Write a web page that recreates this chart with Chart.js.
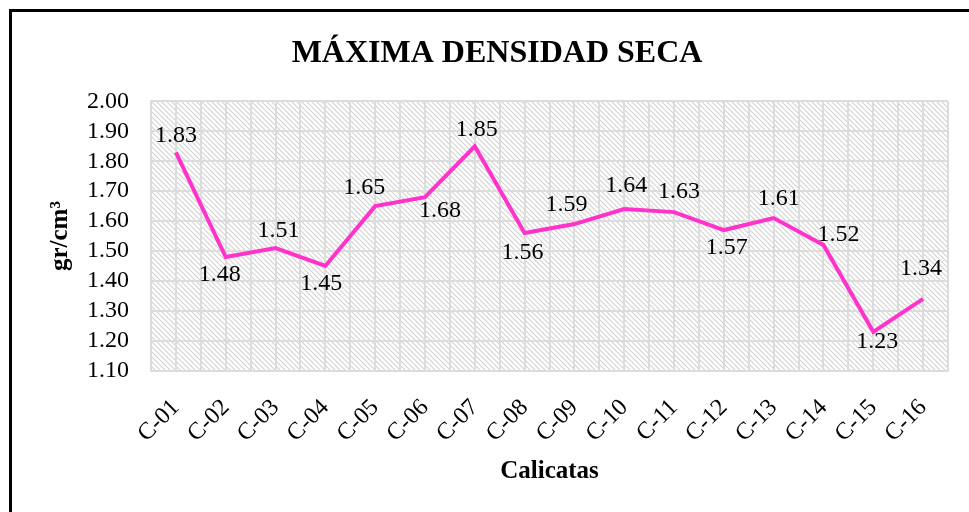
<!DOCTYPE html>
<html>
<head>
<meta charset="utf-8">
<script src="https://cdn.jsdelivr.net/npm/chart.js@4/dist/chart.umd.min.js"></script>
<style>
  html, body { margin: 0; padding: 0; background: #fff; overflow: hidden; width: 969px; height: 512px; }
  #wrap { position: absolute; left: 0; top: 0; width: 969px; height: 512px; }
  #frame { position: absolute; left: 9px; top: 9px; width: 2000px; height: 2000px; border: 3px solid #000; pointer-events: none; }
</style>
</head>
<body>
<div id="wrap"><canvas id="c" width="969" height="512"></canvas></div>
<div id="frame"></div>
<script>
// ---- data ----
const categories = ['C-01','C-02','C-03','C-04','C-05','C-06','C-07','C-08','C-09','C-10','C-11','C-12','C-13','C-14','C-15','C-16'];
const densidad = [1.83, 1.48, 1.51, 1.45, 1.65, 1.68, 1.85, 1.56, 1.59, 1.64, 1.63, 1.57, 1.61, 1.52, 1.23, 1.34];
const yMin = 1.10;
const yMax = 2.00;
const yStep = 0.10;

const SERIF = '"Liberation Serif", "Times New Roman", serif';

// label offsets relative to each point (style only)
const labelOffsets = [[0,-17],[-6,18],[3,-17],[-4,18],[-11,-18],[15,14],[2,-17],[-2,20],[-8,-19],[2,-23],[5,-20],[3,18],[5,-19],[15,-10],[4,10],[-2,-30]];

function makeHatch() {
  const t = document.createElement('canvas');
  t.width = 5; t.height = 5;
  const g = t.getContext('2d');
  g.fillStyle = '#ffffff';
  g.fillRect(0,0,5,5);
  g.strokeStyle = '#d2d2d2';
  g.lineWidth = 1.1;
  g.beginPath();
  g.moveTo(-1,-1); g.lineTo(6,6);
  g.moveTo(-1,4); g.lineTo(1,6);
  g.moveTo(4,-1); g.lineTo(6,1);
  g.stroke();
  return t;
}

const bgPlugin = {
  id: 'bgHatch',
  beforeDraw(chart) {
    const {ctx, chartArea: a, scales} = chart;
    ctx.save();
    ctx.fillStyle = ctx.createPattern(makeHatch(), 'repeat');
    ctx.fillRect(a.left, a.top, a.right - a.left, a.bottom - a.top);
    // extra vertical grid lines at category centers
    ctx.strokeStyle = '#dcdcdc';
    ctx.lineWidth = 2;
    ctx.beginPath();
    categories.forEach((c, i) => {
      const x = Math.round(scales.x.getPixelForValue(i));
      ctx.moveTo(x, a.top); ctx.lineTo(x, a.bottom);
    });
    ctx.stroke();
    ctx.restore();
  }
};

const labelPlugin = {
  id: 'valLabels',
  afterDatasetsDraw(chart, args, opts) {
    const {ctx} = chart;
    const meta = chart.getDatasetMeta(0);
    const ds = chart.data.datasets[0].data;
    ctx.save();
    ctx.font = opts.font;
    ctx.fillStyle = '#000';
    ctx.textAlign = 'center';
    ctx.textBaseline = 'middle';
    meta.data.forEach((pt, i) => {
      const o = opts.offsets[i] || [0, -18];
      ctx.fillText(ds[i].toFixed(2), pt.x + o[0], pt.y + o[1]);
    });
    ctx.restore();
  }
};

new Chart(document.getElementById('c'), {
  type: 'line',
  data: {
    labels: categories,
    datasets: [{
      label: 'Máxima densidad seca',
      data: densidad,
      borderColor: '#FF33CC',
      backgroundColor: '#FF33CC',
      borderWidth: 4,
      pointRadius: 0,
      pointHoverRadius: 0,
      tension: 0,
      fill: false
    }]
  },
  options: {
    responsive: false,
    animation: false,
    devicePixelRatio: 1,
    layout: { padding: { left: 46, right: 21, top: 0, bottom: 25 } },
    plugins: {
      legend: { display: false },
      tooltip: { enabled: false },
      title: {
        display: true,
        text: 'MÁXIMA DENSIDAD SECA',
        color: '#000',
        font: { family: SERIF, size: 32, weight: 'bold' },
        padding: { top: 35, bottom: 28 }
      },
      valLabels: { font: '24px ' + SERIF, offsets: labelOffsets }
    },
    scales: {
      x: {
        type: 'category',
        offset: true,
        grid: { display: true, offset: true, color: '#dcdcdc', lineWidth: 2, drawTicks: true, tickLength: 18, tickColor: 'rgba(0,0,0,0)' },
        border: { display: true, color: '#dcdcdc', width: 2 },
        ticks: {
          color: '#000',
          font: { family: SERIF, size: 24 },
          minRotation: 45, maxRotation: 45,
          autoSkip: false,
          padding: 5
        },
        title: {
          display: true,
          text: 'Calicatas',
          color: '#000',
          font: { family: SERIF, size: 25, weight: 'bold' },
          padding: { top: 4, bottom: 0 }
        }
      },
      y: {
        min: yMin,
        max: yMax,
        grid: { color: '#dcdcdc', lineWidth: 2, drawTicks: true, tickLength: 11, tickColor: 'rgba(0,0,0,0)' },
        border: { display: true, color: '#dcdcdc', width: 2 },
        ticks: {
          stepSize: yStep,
          autoSkip: false,
          color: '#000',
          font: { family: SERIF, size: 24 },
          padding: 11,
          callback: v => Number(v).toFixed(2)
        },
        title: {
          display: true,
          text: 'gr/cm³',
          color: '#000',
          font: { family: SERIF, size: 25, weight: 'bold' },
          padding: { top: 0, bottom: 0 }
        }
      }
    }
  },
  plugins: [bgPlugin, labelPlugin]
});
</script>
</body>
</html>
